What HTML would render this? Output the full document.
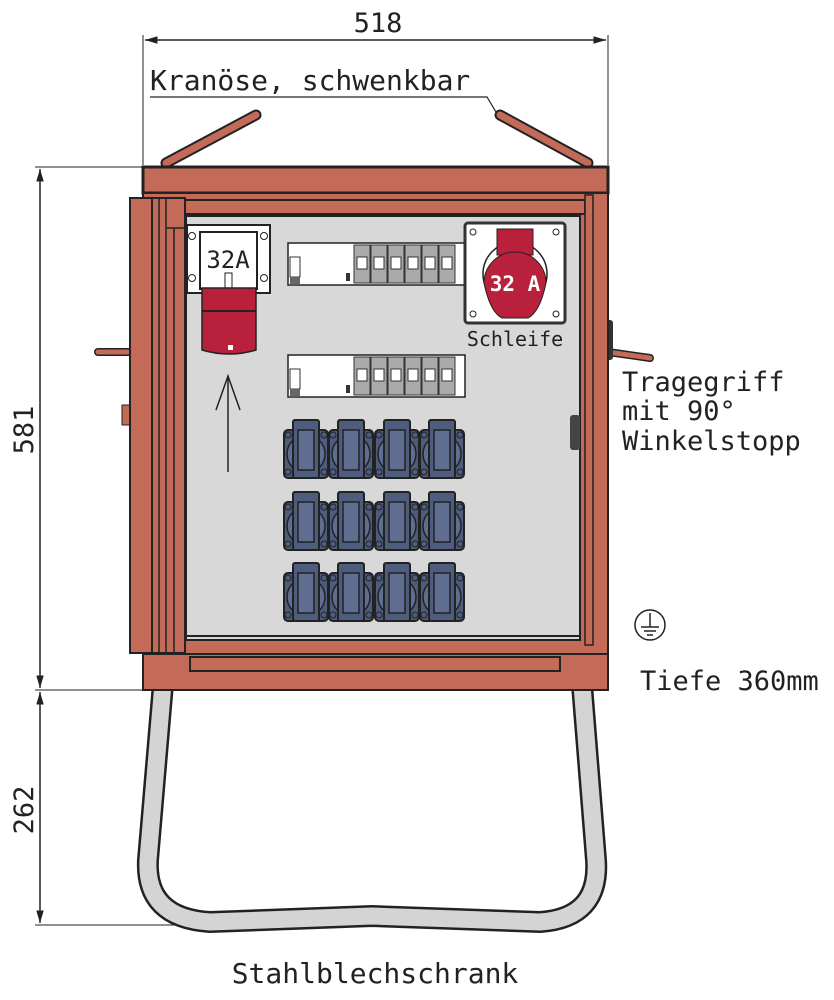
<!DOCTYPE html>
<html><head><meta charset="utf-8"><style>
body{margin:0;background:#fff}
svg{display:block}
text{font-family:"DejaVu Sans Mono","Liberation Mono",monospace;fill:#222}
</style></head><body>
<svg width="834" height="1000" viewBox="0 0 834 1000" xmlns="http://www.w3.org/2000/svg">
<defs>
<marker id="ar" viewBox="0 0 10 6" refX="10" refY="3" markerWidth="10" markerHeight="5" orient="auto-start-reverse"><path d="M0,0L10,3L0,6z" fill="#222"/></marker>
<g id="sock">
<rect x="-22" y="10" width="44" height="48" rx="4" fill="#4e5d7e" stroke="#222" stroke-width="2"/>
<circle cx="0" cy="34" r="19" fill="#5f6e90" stroke="#222" stroke-width="1.5"/>
<rect x="-13" y="0" width="26" height="58" rx="2" fill="#4e5d7e" stroke="#222" stroke-width="2"/>
<rect x="-8" y="10" width="16" height="40" fill="#5f6e90" stroke="#222" stroke-width="1.5"/>
<circle cx="-18" cy="15" r="3" fill="none" stroke="#222"/><circle cx="18" cy="15" r="3" fill="none" stroke="#222"/>
<circle cx="-18" cy="52" r="3" fill="none" stroke="#222"/><circle cx="18" cy="52" r="3" fill="none" stroke="#222"/>
</g>
<g id="brk">
<rect x="0" y="0" width="177" height="42" fill="#fff" stroke="#222" stroke-width="1.5"/>
<rect x="2" y="14" width="10" height="20" fill="#fff" stroke="#333"/>
<rect x="2" y="34" width="10" height="7" fill="#666"/>
<rect x="58" y="30" width="4" height="8" fill="#333"/>
<g fill="#aaa" stroke="#333">
<rect x="66" y="2" width="16" height="38"/><rect x="83" y="2" width="16" height="38"/><rect x="100" y="2" width="16" height="38"/><rect x="117" y="2" width="16" height="38"/><rect x="134" y="2" width="16" height="38"/><rect x="151" y="2" width="16" height="38"/>
</g>
<g fill="#fff" stroke="#333">
<rect x="69" y="14" width="10" height="12"/><rect x="86" y="14" width="10" height="12"/><rect x="103" y="14" width="10" height="12"/><rect x="120" y="14" width="10" height="12"/><rect x="137" y="14" width="10" height="12"/><rect x="154" y="14" width="10" height="12"/>
</g>
</g>
</defs>

<!-- top dimension -->
<line x1="143" y1="35" x2="143" y2="165" stroke="#222"/>
<line x1="608" y1="35" x2="608" y2="165" stroke="#222"/>
<line x1="145" y1="40" x2="606" y2="40" stroke="#222" stroke-width="1.5" marker-start="url(#ar)" marker-end="url(#ar)"/>
<text x="378" y="32" font-size="27" text-anchor="middle">518</text>
<text x="150" y="90" font-size="28">Kranöse, schwenkbar</text>
<polyline points="150,97 487,97 496,112" fill="none" stroke="#222" stroke-width="1.2"/>

<!-- crane eyes -->
<line x1="166" y1="163" x2="256" y2="115" stroke="#222" stroke-width="11" stroke-linecap="round"/>
<line x1="166" y1="163" x2="256" y2="115" stroke="#c46a58" stroke-width="7" stroke-linecap="round"/>
<line x1="500" y1="115" x2="588" y2="163" stroke="#222" stroke-width="11" stroke-linecap="round"/>
<line x1="500" y1="115" x2="588" y2="163" stroke="#c46a58" stroke-width="7" stroke-linecap="round"/>

<!-- handles -->
<line x1="98" y1="352" x2="132" y2="352" stroke="#222" stroke-width="8" stroke-linecap="round"/>
<line x1="98" y1="352" x2="132" y2="352" stroke="#c46a58" stroke-width="5" stroke-linecap="round"/>
<line x1="608" y1="352" x2="650" y2="358" stroke="#222" stroke-width="8" stroke-linecap="round"/>
<line x1="608" y1="352" x2="650" y2="358" stroke="#c46a58" stroke-width="5" stroke-linecap="round"/>
<rect x="122" y="405" width="10" height="20" fill="#c46a58" stroke="#222"/>
<rect x="605" y="320" width="8" height="40" rx="3" fill="#333"/>

<!-- left dims -->
<line x1="35" y1="167" x2="143" y2="167" stroke="#222"/>
<line x1="35" y1="690" x2="143" y2="690" stroke="#222"/>
<line x1="35" y1="925" x2="210" y2="925" stroke="#222"/>
<line x1="40" y1="169" x2="40" y2="688" stroke="#222" stroke-width="1.5" marker-start="url(#ar)" marker-end="url(#ar)"/>
<line x1="40" y1="692" x2="40" y2="923" stroke="#222" stroke-width="1.5" marker-start="url(#ar)" marker-end="url(#ar)"/>
<text transform="translate(33,430) rotate(-90)" font-size="27" text-anchor="middle">581</text>
<text transform="translate(33,810) rotate(-90)" font-size="27" text-anchor="middle">262</text>

<!-- stand -->
<path d="M165,660 L148,860 Q145,918 210,922 L372,916 L540,922 Q600,918 596,860 L580,660" fill="none" stroke="#222" stroke-width="22"/>
<path d="M165,660 L148,860 Q145,918 210,922 L372,916 L540,922 Q600,918 596,860 L580,660" fill="none" stroke="#d4d4d4" stroke-width="17"/>

<!-- cabinet body -->
<rect x="143" y="167" width="465" height="26" fill="#c46a58" stroke="#222" stroke-width="3"/>
<rect x="143" y="193" width="465" height="497" fill="#c46a58" stroke="#222" stroke-width="2"/>
<rect x="185" y="200" width="400" height="14" fill="#c46a58" stroke="#222" stroke-width="2"/>
<rect x="585" y="195" width="8" height="450" fill="#c46a58" stroke="#222" stroke-width="1.5"/>
<rect x="186" y="216" width="394" height="424" fill="#d8d8d8" stroke="#222" stroke-width="2"/>
<line x1="186" y1="636" x2="580" y2="636" stroke="#222" stroke-width="2"/>
<rect x="190" y="657" width="370" height="14" fill="#c46a58" stroke="#222" stroke-width="2"/>
<line x1="143" y1="654" x2="608" y2="654" stroke="#222" stroke-width="2"/>
<!-- left door frame -->
<rect x="130" y="198" width="55" height="455" fill="#c46a58" stroke="#222" stroke-width="2"/>
<line x1="152" y1="198" x2="152" y2="653" stroke="#222" stroke-width="2"/>
<line x1="159" y1="198" x2="159" y2="653" stroke="#222" stroke-width="1.5"/>
<line x1="166" y1="198" x2="166" y2="653" stroke="#222" stroke-width="1.5"/>
<line x1="174" y1="228" x2="174" y2="653" stroke="#222" stroke-width="1.5"/>
<line x1="166" y1="228" x2="185" y2="228" stroke="#222" stroke-width="1.5"/>
<rect x="570" y="415" width="10" height="35" rx="3" fill="#444"/>

<!-- left 32A plug -->
<rect x="187" y="225" width="83" height="68" fill="#fff" stroke="#222" stroke-width="2"/>
<rect x="200" y="232" width="57" height="57" fill="#fff" stroke="#222" stroke-width="2"/>
<text x="228" y="268" font-size="24" text-anchor="middle" font-family="Liberation Sans,sans-serif">32A</text>
<circle cx="192" cy="236" r="3.5" fill="none" stroke="#222"/><circle cx="264" cy="236" r="3.5" fill="none" stroke="#222"/>
<circle cx="192" cy="278" r="3.5" fill="none" stroke="#222"/><circle cx="264" cy="278" r="3.5" fill="none" stroke="#222"/>
<rect x="225" y="273" width="7" height="15" fill="#fff" stroke="#222"/>
<path d="M202,288 L256,288 L256,350 Q229,358 202,350 Z" fill="#b8203c" stroke="#222" stroke-width="1.5"/>
<line x1="202" y1="311" x2="256" y2="311" stroke="#222" stroke-width="2"/>
<rect x="228" y="345" width="5" height="5" fill="#fff"/>
<!-- arrow -->
<line x1="228" y1="472" x2="228" y2="378" stroke="#222" stroke-width="1.5"/>
<polyline points="216,410 228,376 240,410" fill="none" stroke="#222" stroke-width="1.5"/>

<!-- breakers -->
<use href="#brk" x="288" y="243"/>
<use href="#brk" x="288" y="355"/>

<!-- right 32A socket -->
<rect x="465" y="223" width="100" height="100" rx="3" fill="#fff" stroke="#333" stroke-width="3"/>
<circle cx="473" cy="232" r="3" fill="none" stroke="#222"/><circle cx="556" cy="232" r="3" fill="none" stroke="#222"/>
<circle cx="473" cy="314" r="3" fill="none" stroke="#222"/><circle cx="556" cy="314" r="3" fill="none" stroke="#222"/>
<circle cx="515" cy="274" r="32" fill="none" stroke="#222" stroke-width="1.5"/>
<path d="M497,229 L533,229 L533,255 L497,255 Z" fill="#b8203c" stroke="#222"/>
<path d="M484,283 A31,31 0 0 1 546,283 Q540,312 528,318 L502,318 Q490,312 484,283 Z" fill="#b8203c" stroke="#222"/>
<text x="515" y="291" font-size="21" font-weight="bold" text-anchor="middle" font-family="Liberation Sans,sans-serif" style="fill:#fff">32 A</text>
<text x="515" y="346" font-size="20" text-anchor="middle" font-family="Liberation Sans,sans-serif">Schleife</text>

<!-- sockets -->
<use href="#sock" x="306" y="420"/><use href="#sock" x="351" y="420"/><use href="#sock" x="397" y="420"/><use href="#sock" x="442" y="420"/>
<use href="#sock" x="306" y="492"/><use href="#sock" x="351" y="492"/><use href="#sock" x="397" y="492"/><use href="#sock" x="442" y="492"/>
<use href="#sock" x="306" y="563"/><use href="#sock" x="351" y="563"/><use href="#sock" x="397" y="563"/><use href="#sock" x="442" y="563"/>

<!-- right labels -->
<text x="622" y="391" font-size="27">Tragegriff</text>
<text x="622" y="420" font-size="27">mit 90°</text>
<text x="622" y="450" font-size="27">Winkelstopp</text>
<circle cx="650" cy="625" r="15" fill="none" stroke="#222" stroke-width="1.5"/>
<line x1="650" y1="613" x2="650" y2="627" stroke="#222" stroke-width="1.5"/>
<line x1="641" y1="627" x2="659" y2="627" stroke="#222" stroke-width="1.5"/>
<line x1="644" y1="631" x2="656" y2="631" stroke="#222" stroke-width="1.5"/>
<line x1="647" y1="635" x2="653" y2="635" stroke="#222" stroke-width="1.5"/>
<text x="640" y="690" font-size="27">Tiefe 360mm</text>
<text x="375" y="983" font-size="28" text-anchor="middle">Stahlblechschrank</text>
</svg>
</body></html>
